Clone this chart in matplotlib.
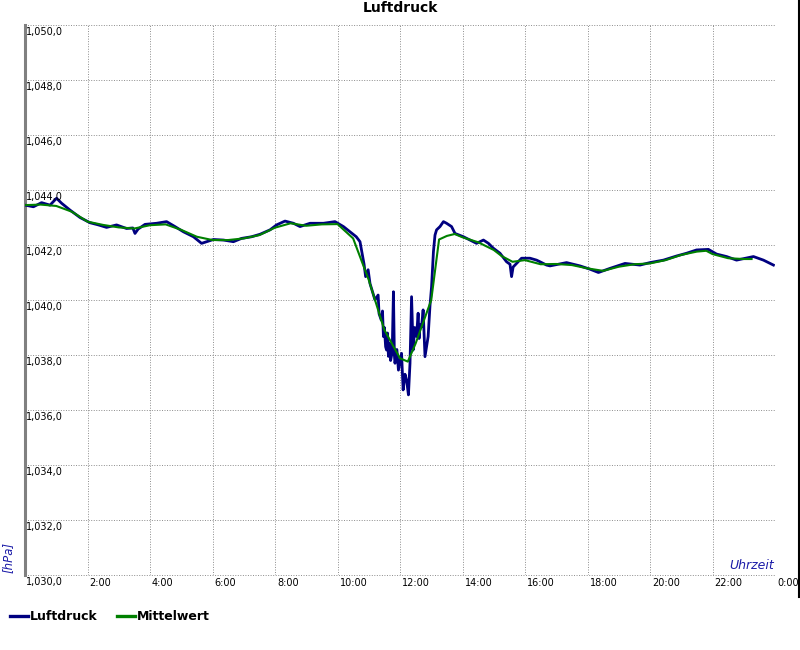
import matplotlib.pyplot as plt
from matplotlib.lines import Line2D
from matplotlib.transforms import offset_copy

# Luftdruck (raw), hours of the day and hPa
stunden = [0.00, 0.27, 0.53, 0.80, 1.01, 1.17, 1.44, 1.76, 2.08, 2.35, 2.61, 2.93,
           3.25, 3.45, 3.52, 3.62, 3.84, 4.21, 4.53, 4.80, 5.07, 5.28, 5.39, 5.65,
           6.03, 6.35, 6.67, 6.93, 7.25, 7.52, 7.84, 8.05, 8.32, 8.59, 8.80, 9.12,
           9.55, 9.92, 10.19, 10.40, 10.60, 10.72, 10.85, 10.90, 10.98, 11.04, 11.20,
           11.30, 11.33, 11.40, 11.44, 11.47, 11.50, 11.54, 11.57, 11.60, 11.63, 11.66,
           11.70, 11.75, 11.79, 11.82, 11.84, 11.90, 11.95,
           12.05, 12.10, 12.16, 12.21, 12.27, 12.32, 12.37, 12.42, 12.47, 12.53, 12.58,
           12.61, 12.64, 12.69, 12.74, 12.77, 12.80, 12.90, 12.96, 13.01, 13.07, 13.12,
           13.17, 13.28, 13.39,
           13.49, 13.65, 13.76, 14.03, 14.24, 14.45, 14.67, 14.83, 14.99, 15.20, 15.41,
           15.52, 15.57, 15.62, 15.68, 15.89, 16.16, 16.37, 16.48, 16.69, 16.80, 17.33,
           17.76, 18.08, 18.35, 18.72, 19.20, 19.68, 20.00, 20.43, 20.85, 21.17, 21.49,
           21.87, 22.13, 22.45, 22.77, 23.31, 23.63, 23.95]
luftdruck = [1043.45, 1043.39, 1043.54, 1043.45, 1043.70, 1043.52, 1043.27, 1043.00,
             1042.81, 1042.73, 1042.64, 1042.73, 1042.60, 1042.62, 1042.42, 1042.58,
             1042.75, 1042.79, 1042.85, 1042.67, 1042.48, 1042.36, 1042.30, 1042.06,
             1042.20, 1042.18, 1042.12, 1042.24, 1042.30, 1042.39, 1042.55, 1042.73,
             1042.87, 1042.79, 1042.67, 1042.79, 1042.79, 1042.85, 1042.67, 1042.48,
             1042.30, 1042.12, 1041.30, 1040.85, 1041.10, 1040.60, 1040.00, 1040.18,
             1039.50, 1039.27, 1039.60, 1038.67, 1039.00, 1038.30, 1038.18, 1038.80,
             1037.95, 1038.43, 1037.80, 1038.10, 1040.30, 1038.00,
             1037.70, 1038.20, 1037.45,
             1038.06, 1036.73, 1037.30, 1037.09, 1036.55, 1037.70, 1040.12, 1038.18,
             1039.00, 1038.67, 1039.52, 1038.60, 1039.10, 1039.03, 1039.64, 1038.80,
             1037.94, 1038.67, 1039.80, 1040.48, 1041.76, 1042.36,
             1042.55, 1042.67, 1042.85,
             1042.79, 1042.67, 1042.42, 1042.30, 1042.18, 1042.06, 1042.18, 1042.06,
             1041.88, 1041.70, 1041.39, 1041.30, 1040.85, 1041.20, 1041.27, 1041.52,
             1041.52, 1041.45, 1041.39, 1041.27, 1041.24, 1041.36, 1041.24, 1041.12,
             1041.00, 1041.15, 1041.33, 1041.27, 1041.36, 1041.45, 1041.60, 1041.70,
             1041.82, 1041.84, 1041.67, 1041.58, 1041.45, 1041.58, 1041.45, 1041.27]

# Mittelwert
stunden_mw = [0.0, 0.5, 1.0, 1.5, 2.0, 2.5, 3.0, 3.5, 4.0, 4.5, 5.0, 5.5, 6.0, 6.5,
              7.0, 7.5, 8.0, 8.5, 9.0, 9.5, 10.0, 10.5, 11.0, 11.5, 12.0, 12.25, 12.5,
              13.0, 13.25, 13.5, 13.75, 14.0, 14.5, 15.0, 15.25, 15.6, 16.0, 16.5, 17.0,
              17.5, 18.0, 18.5, 19.0, 19.5, 20.0, 20.5, 21.0, 21.5, 21.8, 22.0, 22.5,
              23.0, 23.25]
mittelwert = [1043.45, 1043.47, 1043.42, 1043.21, 1042.85, 1042.73, 1042.64, 1042.60,
              1042.72, 1042.75, 1042.55, 1042.30, 1042.18, 1042.18, 1042.24, 1042.36,
              1042.63, 1042.79, 1042.70, 1042.75, 1042.76, 1042.24, 1040.73, 1038.91,
              1037.88, 1037.76, 1038.42, 1040.00, 1042.20, 1042.33, 1042.40, 1042.28,
              1042.10, 1041.82, 1041.60, 1041.39, 1041.45, 1041.30, 1041.31, 1041.27,
              1041.15, 1041.06, 1041.21, 1041.30, 1041.33, 1041.45, 1041.64, 1041.76,
              1041.79, 1041.67, 1041.52, 1041.49, 1041.49]

y_ticks = [1030, 1032, 1034, 1036, 1038, 1040, 1042, 1044, 1046, 1048, 1050]
y_labels = ['1,030,0', '1,032,0', '1,034,0', '1,036,0', '1,038,0', '1,040,0',
            '1,042,0', '1,044,0', '1,046,0', '1,048,0', '1,050,0']
x_ticks = [2, 4, 6, 8, 10, 12, 14, 16, 18, 20, 22, 24]
x_labels = ['2:00', '4:00', '6:00', '8:00', '10:00', '12:00', '14:00', '16:00',
            '18:00', '20:00', '22:00', '0:00']

blau = '#000080'
gruen = '#008000'
textblau = '#1c1ca8'
gitter = dict(color='#8c8c8c', lw=0.7, linestyle=(0, (1, 1.6)))

fig = plt.figure(figsize=(8, 6.5), dpi=100)
ax = fig.add_axes([25 / 800, 75 / 650, 750 / 800, 550 / 650])

l1, = ax.plot(stunden, luftdruck, color=blau, lw=2.0, label='Luftdruck', zorder=3)
l2, = ax.plot(stunden_mw, mittelwert, color=gruen, lw=1.5, label='Mittelwert', zorder=4)

ax.set_xlim(0, 24)
ax.set_ylim(1030, 1050)
ax.set_xticks(x_ticks)
ax.set_yticks(y_ticks)
ax.grid(True, **gitter)
ax.tick_params(length=0, labelleft=False, labelbottom=False)
for s in ['top', 'right', 'bottom']:
    ax.spines[s].set_visible(False)
ax.spines['left'].set_color('#808080')
ax.spines['left'].set_linewidth(2.2)
ax.axhline(1030, clip_on=False, **gitter)

# labels sit inside the plot, just below/right of the grid lines
ytr = offset_copy(ax.get_yaxis_transform(), fig=fig, x=1, y=-2, units='dots')
for v, s in zip(y_ticks, y_labels):
    ax.text(0, v, s, transform=ytr, ha='left', va='top', fontsize=7)
xtr = offset_copy(ax.get_xaxis_transform(), fig=fig, x=2, y=-3, units='dots')
for h, s in zip(x_ticks, x_labels):
    ax.text(h, 0, s, transform=xtr, ha='left', va='top', fontsize=7, clip_on=False)

ax.text(0.999, 0.006, 'Uhrzeit', transform=ax.transAxes, ha='right', va='bottom',
        fontsize=9, style='italic', color=textblau)
fig.text(8 / 800, 1 - 557 / 650, '[hPa]', rotation=90, ha='center', va='center',
         fontsize=8.5, style='italic', color=textblau)

fig.text(0.5, 1 - 8 / 650, 'Luftdruck', ha='center', va='center',
         fontsize=10, fontweight='bold')

fig.add_artist(Line2D([798.5 / 800, 798.5 / 800], [1, 53 / 650], color='black', lw=1.5))

leg = fig.legend(handles=[l1, l2], loc='center left', bbox_to_anchor=(10 / 800, 1 - 617 / 650),
                 ncol=2, frameon=False, borderpad=0, borderaxespad=0,
                 handlelength=1.45, handletextpad=0.18, columnspacing=1.5,
                 prop={'weight': 'bold', 'size': 9})
for ln in leg.get_lines():
    ln.set_linewidth(2.4)

fig.savefig('out.png', dpi=100)
